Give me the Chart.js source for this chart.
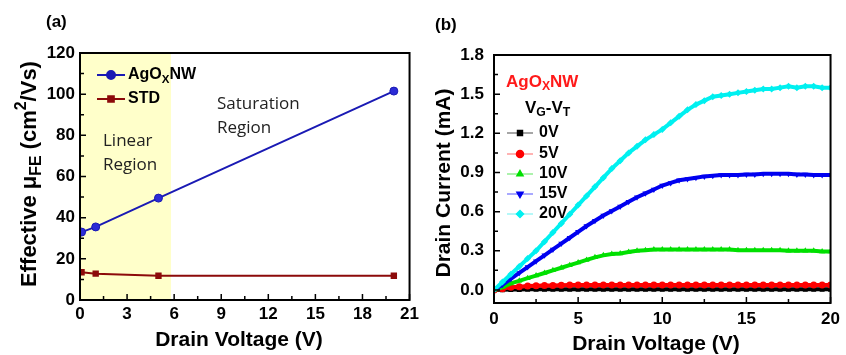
<!DOCTYPE html>
<html>
<head>
<meta charset="utf-8">
<script src="https://cdn.jsdelivr.net/npm/chart.js@4.4.0/dist/chart.umd.min.js"></script>
<style>
body { margin: 0; background: #fff; width: 846px; height: 355px; overflow: hidden; position: relative; }
.panel { position: absolute; top: 0; width: 423px; height: 355px; }
#panelA { left: 0; }
#panelB { left: 423px; }
</style>
</head>
<body>
<div class="panel" id="panelA"><canvas id="chartA" width="423" height="355"></canvas></div>
<div class="panel" id="panelB"><canvas id="chartB" width="423" height="355"></canvas></div>
<script>
// ---- panel (a): effective mobility vs drain voltage ----
var mobVoltage = [0.1, 1, 5, 20];
var mobAgNW = [33, 35.5, 49.5, 101.5];
var mobSTD = [13.5, 12.8, 11.8, 11.8];
var linearRegionEnd = 5.8;
var xTicksA = [0, 3, 6, 9, 12, 15, 18, 21];
var yTicksA = [0, 20, 40, 60, 80, 100, 120];

// ---- panel (b): output curves, drain current (mA) ----
var ivVoltage = [0, 0.5, 1, 1.5, 2, 2.5, 3, 3.5, 4, 4.5, 5, 5.5, 6, 6.5, 7, 7.5, 8, 8.5, 9, 9.5,
    10, 10.5, 11, 11.5, 12, 12.5, 13, 13.5, 14, 14.5, 15, 15.5, 16, 16.5, 17, 17.5, 18, 18.5, 19, 19.5, 20];
var id0V = [0, 0.002, 0.003, 0.004, 0.005, 0.005, 0.005, 0.005, 0.005, 0.005, 0.005, 0.005, 0.005, 0.005,
    0.005, 0.005, 0.005, 0.005, 0.005, 0.005, 0.005, 0.005, 0.005, 0.005, 0.005, 0.005, 0.005, 0.005,
    0.005, 0.005, 0.005, 0.005, 0.005, 0.005, 0.005, 0.005, 0.005, 0.005, 0.005, 0.005, 0.005];
var id5V = [0, 0.01, 0.02, 0.025, 0.03, 0.032, 0.034, 0.035, 0.036, 0.037, 0.037, 0.038, 0.038, 0.038,
    0.038, 0.038, 0.038, 0.038, 0.038, 0.038, 0.038, 0.038, 0.038, 0.038, 0.038, 0.038, 0.038, 0.038,
    0.038, 0.038, 0.038, 0.038, 0.038, 0.038, 0.038, 0.038, 0.038, 0.038, 0.038, 0.038, 0.038];
var id10V = [0, 0.02, 0.05, 0.07, 0.09, 0.11, 0.13, 0.15, 0.17, 0.19, 0.21, 0.23, 0.25, 0.265, 0.275,
    0.28, 0.29, 0.30, 0.305, 0.31, 0.31, 0.31, 0.31, 0.31, 0.31, 0.31, 0.31, 0.31, 0.31, 0.305, 0.305,
    0.305, 0.305, 0.305, 0.305, 0.30, 0.30, 0.30, 0.30, 0.295, 0.295];
var id15V = [0, 0.04, 0.085, 0.13, 0.175, 0.22, 0.265, 0.31, 0.355, 0.40, 0.445, 0.49, 0.53, 0.57, 0.605,
    0.64, 0.675, 0.71, 0.74, 0.77, 0.80, 0.82, 0.84, 0.85, 0.86, 0.87, 0.875, 0.88, 0.88, 0.88, 0.885,
    0.885, 0.89, 0.89, 0.89, 0.89, 0.885, 0.885, 0.88, 0.88, 0.88];
var id20V = [0, 0.06, 0.12, 0.18, 0.24, 0.30, 0.37, 0.44, 0.51, 0.58, 0.65, 0.72, 0.79, 0.86, 0.93,
    0.99, 1.05, 1.10, 1.15, 1.19, 1.23, 1.28, 1.33, 1.38, 1.42, 1.45, 1.48, 1.49, 1.50, 1.51, 1.52,
    1.53, 1.54, 1.54, 1.55, 1.56, 1.55, 1.56, 1.56, 1.55, 1.55];
var xTicksB = [0, 5, 10, 15, 20];
var yTicksB = [0, 0.3, 0.6, 0.9, 1.2, 1.5, 1.8];

var FONT = "'Liberation Sans', Arial, sans-serif";

function pairs(xs, ys) {
    return xs.map(function(x, i) { return { x: x, y: ys[i] }; });
}

/**
 * Draw a run of text with sub/superscripts
 */
function drawRich(ctx, x, y, runs, size, align) {
    var total = 0;
    runs.forEach(function(r) {
        var s = r.s ? size * 0.72 : size;
        ctx.font = 'bold ' + s + 'px ' + FONT;
        r.w = ctx.measureText(r.t).width;
        total += r.w;
    });
    var cx = align === 'center' ? x - total / 2 : x;
    ctx.textBaseline = 'middle';
    ctx.textAlign = 'left';
    runs.forEach(function(r) {
        var s = r.s ? size * 0.72 : size;
        var dy = r.s === 'sub' ? size * 0.3 : (r.s === 'sup' ? -size * 0.38 : 0);
        ctx.font = 'bold ' + s + 'px ' + FONT;
        ctx.fillText(r.t, cx, y + dy);
        cx += r.w;
    });
}

function marker(ctx, style, x, y, r, rot) {
    Chart.helpers.drawPoint(ctx, {
        pointStyle: style, radius: r, rotation: rot || 0, borderWidth: 1
    }, x, y);
}

/**
 * Box frame with inward ticks
 */
var framePlugin = {
    id: 'frame',
    afterDraw: function(chart, args, opts) {
        var ctx = chart.ctx, a = chart.chartArea;
        var sx = chart.scales.x, sy = chart.scales.y;
        ctx.save();
        ctx.strokeStyle = '#000';
        ctx.lineWidth = 2;
        ctx.strokeRect(a.left, a.top, a.right - a.left, a.bottom - a.top);
        ctx.lineWidth = 1.5;
        ctx.beginPath();
        opts.xMajor.concat(opts.xMinor).forEach(function(v, i) {
            var len = i < opts.xMajor.length ? 6 : 4;
            var px = sx.getPixelForValue(v);
            ctx.moveTo(px, a.bottom);
            ctx.lineTo(px, a.bottom - len);
        });
        opts.yMajor.concat(opts.yMinor).forEach(function(v, i) {
            var len = i < opts.yMajor.length ? 6 : 4;
            var py = sy.getPixelForValue(v);
            ctx.moveTo(a.left, py);
            ctx.lineTo(a.left + len, py);
        });
        ctx.stroke();
        ctx.restore();
    }
};

// ================= Chart A =================
var blueA = '#1a1ab4';
var redA = '#8c0a0a';

var shadePlugin = {
    id: 'shade',
    beforeDatasetsDraw: function(chart) {
        var ctx = chart.ctx, a = chart.chartArea, sx = chart.scales.x;
        ctx.save();
        ctx.fillStyle = '#ffffca';
        var x0 = sx.getPixelForValue(0), x1 = sx.getPixelForValue(linearRegionEnd);
        ctx.fillRect(x0, a.top, x1 - x0, a.bottom - a.top);
        ctx.restore();
    }
};

var textPluginA = {
    id: 'textA',
    afterDraw: function(chart) {
        var ctx = chart.ctx;
        ctx.save();
        ctx.fillStyle = '#000';
        drawRich(ctx, 46, 22, [{ t: '(a)' }], 17, 'left');
        // axis titles
        drawRich(ctx, 239, 340, [{ t: 'Drain Voltage (V)' }], 21, 'center');
        ctx.save();
        ctx.translate(30, 174);
        ctx.rotate(-Math.PI / 2);
        drawRich(ctx, 0, 0, [{ t: 'Effective \u03bc' }, { t: 'FE', s: 'sub' }, { t: ' (cm' }, { t: '2', s: 'sup' }, { t: '/Vs)' }], 22, 'center');
        ctx.restore();
        // region labels
        ctx.font = "17px 'Open Sans', sans-serif";
        ctx.fillStyle = '#222';
        ctx.textBaseline = 'middle';
        ctx.textAlign = 'left';
        ctx.fillText('Saturation', 217, 104);
        ctx.fillText('Region', 217, 128);
        ctx.fillText('Linear', 103, 141);
        ctx.fillText('Region', 103, 165);
        // legend
        var rows = [
            { y: 75, color: blueA, style: 'circle', runs: [{ t: 'AgO' }, { t: 'X', s: 'sub' }, { t: 'NW' }] },
            { y: 99, color: redA, style: 'rect', runs: [{ t: 'STD' }] }
        ];
        rows.forEach(function(r) {
            ctx.strokeStyle = r.color;
            ctx.lineWidth = 2;
            ctx.beginPath();
            ctx.moveTo(97, r.y);
            ctx.lineTo(125, r.y);
            ctx.stroke();
            ctx.fillStyle = r.color;
            marker(ctx, r.style, 111, r.y, 4);
            ctx.fillStyle = '#000';
            drawRich(ctx, 128, r.y, r.runs, 16, 'left');
        });
        ctx.restore();
    }
};

new Chart(document.getElementById('chartA'), {
    type: 'scatter',
    data: {
        datasets: [{
            label: 'AgOxNW',
            data: pairs(mobVoltage, mobAgNW),
            showLine: true,
            borderColor: blueA,
            backgroundColor: '#2b2bd6',
            borderWidth: 2,
            pointStyle: 'circle',
            pointRadius: 4,
            pointBorderColor: blueA,
            pointBorderWidth: 1
        }, {
            label: 'STD',
            data: pairs(mobVoltage, mobSTD),
            showLine: true,
            borderColor: redA,
            backgroundColor: redA,
            borderWidth: 2,
            pointStyle: 'rect',
            pointRadius: 4.5,
            pointBorderWidth: 0
        }]
    },
    options: {
        responsive: false,
        animation: false,
        layout: { padding: { left: 0, top: 53, right: 7, bottom: 0 } },
        plugins: {
            legend: { display: false },
            tooltip: { enabled: false },
            frame: {
                xMajor: xTicksA, xMinor: [1.5, 4.5, 7.5, 10.5, 13.5, 16.5, 19.5],
                yMajor: yTicksA, yMinor: [10, 30, 50, 70, 90, 110]
            }
        },
        scales: {
            x: {
                type: 'linear', min: 0, max: 21,
                afterBuildTicks: function(scale) { scale.ticks = xTicksA.map(function(v) { return { value: v }; }); },
                afterFit: function(scale) { scale.height = 55; },
                grid: { display: false, drawTicks: false },
                border: { display: false },
                ticks: { color: '#000', padding: 4, maxRotation: 0, font: { family: FONT, size: 17, weight: 'bold' } }
            },
            y: {
                type: 'linear', min: 0, max: 120,
                afterBuildTicks: function(scale) { scale.ticks = yTicksA.map(function(v) { return { value: v }; }); },
                afterFit: function(scale) { scale.width = 80; },
                grid: { display: false, drawTicks: false },
                border: { display: false },
                ticks: { color: '#000', padding: 5, font: { family: FONT, size: 17, weight: 'bold' } }
            }
        }
    },
    plugins: [shadePlugin, framePlugin, textPluginA]
});

// ================= Chart B =================
var seriesB = [
    { label: '0V', data: id0V, color: '#000000', light: '#888888', style: 'rect', rot: 0, order: 4 },
    { label: '5V', data: id5V, color: '#ff0000', light: '#ff9a9a', style: 'circle', rot: 0, order: 3 },
    { label: '10V', data: id10V, color: '#00e000', light: '#90ee90', style: 'triangle', rot: 0, order: 2 },
    { label: '15V', data: id15V, color: '#0000f0', light: '#8c8cff', style: 'triangle', rot: 180, order: 1 },
    { label: '20V', data: id20V, color: '#00f0f0', light: '#9cf6f6', style: 'rectRot', rot: 0, order: 0 }
];

var textPluginB = {
    id: 'textB',
    afterDraw: function(chart) {
        var ctx = chart.ctx;
        ctx.save();
        ctx.fillStyle = '#000';
        drawRich(ctx, 12, 25, [{ t: '(b)' }], 17, 'left');
        drawRich(ctx, 233, 344, [{ t: 'Drain Voltage (V)' }], 21, 'center');
        ctx.save();
        ctx.translate(21, 183);
        ctx.rotate(-Math.PI / 2);
        drawRich(ctx, 0, 0, [{ t: 'Drain Current (mA)' }], 21, 'center');
        ctx.restore();
        ctx.fillStyle = '#ff1a1a';
        drawRich(ctx, 83, 82, [{ t: 'AgO' }, { t: 'X', s: 'sub' }, { t: 'NW' }], 17, 'left');
        ctx.fillStyle = '#000';
        drawRich(ctx, 102, 108, [{ t: 'V' }, { t: 'G', s: 'sub' }, { t: '-V' }, { t: 'T', s: 'sub' }], 17, 'left');
        var ys = [133, 154, 174, 194, 214];
        seriesB.forEach(function(s, i) {
            ctx.strokeStyle = s.light;
            ctx.lineWidth = 1.5;
            ctx.beginPath();
            ctx.moveTo(84, ys[i]);
            ctx.lineTo(110, ys[i]);
            ctx.stroke();
            ctx.fillStyle = s.color;
            ctx.strokeStyle = s.color;
            marker(ctx, s.style, 97, ys[i], 3.5, s.rot);
            ctx.fillStyle = '#000';
            drawRich(ctx, 116, ys[i], [{ t: s.label }], 16, 'left');
        });
        ctx.restore();
    }
};

new Chart(document.getElementById('chartB'), {
    type: 'scatter',
    data: {
        datasets: seriesB.map(function(s) {
            return {
                label: s.label,
                data: pairs(ivVoltage, s.data),
                showLine: true,
                order: s.order,
                borderColor: s.color,
                backgroundColor: s.color,
                borderWidth: 4,
                pointStyle: s.style,
                rotation: s.rot,
                pointRadius: 3.5,
                pointBorderWidth: 0
            };
        })
    },
    options: {
        responsive: false,
        animation: false,
        layout: { padding: { left: 0, top: 55, right: 10, bottom: 0 } },
        plugins: {
            legend: { display: false },
            tooltip: { enabled: false },
            frame: {
                xMajor: xTicksB, xMinor: [2.5, 7.5, 12.5, 17.5],
                yMajor: yTicksB, yMinor: [0.15, 0.45, 0.75, 1.05, 1.35, 1.65]
            }
        },
        scales: {
            x: {
                type: 'linear', min: 0, max: 20,
                afterBuildTicks: function(scale) { scale.ticks = xTicksB.map(function(v) { return { value: v }; }); },
                afterFit: function(scale) { scale.height = 52; },
                grid: { display: false, drawTicks: false },
                border: { display: false },
                ticks: { color: '#000', padding: 6, maxRotation: 0, font: { family: FONT, size: 17, weight: 'bold' } }
            },
            y: {
                type: 'linear', min: -0.1, max: 1.8,
                afterBuildTicks: function(scale) { scale.ticks = yTicksB.map(function(v) { return { value: v }; }); },
                afterFit: function(scale) { scale.width = 71; },
                grid: { display: false, drawTicks: false },
                border: { display: false },
                ticks: {
                    color: '#000', padding: 10, font: { family: FONT, size: 17, weight: 'bold' },
                    callback: function(v) { return v.toFixed(1); }
                }
            }
        }
    },
    plugins: [framePlugin, textPluginB]
});
</script>
</body>
</html>
